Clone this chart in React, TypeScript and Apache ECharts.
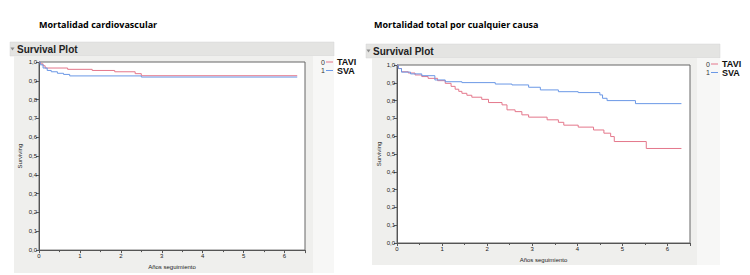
import React, { useEffect, useRef } from "react";
import * as echarts from "echarts";

// ---- Data ----
const leftTitle = "Mortalidad cardiovascular";
const rightTitle = "Mortalidad total por cualquier causa";
const panelHeader = "Survival Plot";
const yAxisName = "Surviving";
const xAxisName = "Años seguimiento";
const groupCodes = ["0", "1"];
const groupNames = ["TAVI", "SVA"];

// Left panel: cardiovascular mortality
const cvTaviTime = [0, 0.04, 0.1, 0.15, 0.7, 1.3, 1.85, 2.35, 2.5, 6.31];
const cvTaviSurv = [1.0, 0.99, 0.98, 0.968, 0.961, 0.955, 0.948, 0.938, 0.927, 0.927];
const cvSvaTime = [0, 0.03, 0.1, 0.2, 0.3, 0.45, 0.6, 0.75, 2.5, 6.31];
const cvSvaSurv = [1.0, 0.985, 0.968, 0.955, 0.948, 0.94, 0.934, 0.926, 0.92, 0.92];

// Right panel: all-cause mortality
const allTaviTime = [0, 0.03, 0.1, 0.25, 0.4, 0.55, 0.69, 0.9, 1.07, 1.2, 1.29, 1.37, 1.44, 1.55, 1.66, 1.88, 2.03, 2.33, 2.44, 2.62, 2.77, 2.92, 3.33, 3.58, 3.7, 4.02, 4.36, 4.59, 4.74, 4.82, 5.53, 6.31];
const allTaviSurv = [1.0, 0.98, 0.962, 0.955, 0.944, 0.935, 0.925, 0.912, 0.897, 0.88, 0.864, 0.852, 0.841, 0.83, 0.819, 0.807, 0.789, 0.776, 0.748, 0.738, 0.72, 0.707, 0.692, 0.678, 0.662, 0.651, 0.635, 0.617, 0.598, 0.57, 0.531, 0.531];
const allSvaTime = [0, 0.03, 0.1, 0.3, 0.55, 0.84, 1.07, 1.44, 2.18, 2.55, 2.92, 3.18, 3.58, 4.02, 4.5, 4.56, 4.66, 5.29, 6.31];
const allSvaSurv = [1.0, 0.98, 0.96, 0.95, 0.94, 0.916, 0.906, 0.901, 0.893, 0.888, 0.875, 0.86, 0.85, 0.845, 0.832, 0.813, 0.8, 0.783, 0.783];

const RED = "#e4778b";
const BLUE = "#6b98e6";

const pairs = (t: number[], s: number[]) => t.map((v, i) => [v, s[i]]);

export default function App() {
  const ref = useRef<HTMLDivElement>(null);
  useEffect(() => {
    if (!ref.current) return;
    const chart = echarts.init(ref.current, undefined, { renderer: "svg" });

    const xAxisBase = (gridIndex: number, nameGap: number) => ({
      type: "value",
      gridIndex,
      min: 0,
      max: 6.5,
      interval: 1,
      name: xAxisName,
      nameLocation: "middle",
      nameGap,
      nameTextStyle: { fontSize: 6, color: "#222", fontFamily: "Liberation Sans" },
      axisLine: { show: true, onZero: false, lineStyle: { color: "#555", width: 1 } },
      axisTick: { show: true, inside: false, length: 3, lineStyle: { color: "#555" } },
      minorTick: { show: true, splitNumber: 2, length: 2, lineStyle: { color: "#555" } },
      splitLine: { show: false },
      axisLabel: {
        fontSize: 6,
        color: "#222",
        margin: 3,
        fontFamily: "Liberation Sans",
        formatter: (v: number) => (v > 6 ? "" : String(v)),
      },
    });
    const yAxisBase = (gridIndex: number, nameGap: number) => ({
      type: "value",
      gridIndex,
      min: 0,
      max: 1,
      interval: 0.1,
      name: yAxisName,
      nameLocation: "middle",
      nameRotate: 90,
      nameGap,
      nameTextStyle: { fontSize: 6, color: "#222", fontFamily: "Liberation Sans" },
      axisLine: { show: true, lineStyle: { color: "#555", width: 1 } },
      axisTick: { show: true, inside: false, length: 3, lineStyle: { color: "#555" } },
      splitLine: { show: false },
      axisLabel: {
        fontSize: 6,
        color: "#222",
        margin: 2,
        fontFamily: "Liberation Sans",
        formatter: (v: number) => v.toFixed(1).replace(".", ","),
      },
    });

    const series = (name: string, data: number[][], color: string, idx: number) => ({
      type: "line",
      name,
      xAxisIndex: idx,
      yAxisIndex: idx,
      data,
      step: "end",
      showSymbol: false,
      symbol: "none",
      lineStyle: { color, width: 1 },
      itemStyle: { color },
      z: 5,
    });

    const legend = (x: number, y: number) => {
      const els: any[] = [];
      [RED, BLUE].forEach((c, i) => {
        const yy = y + i * 8.5;
        els.push({
          type: "text",
          x,
          y: yy,
          style: { text: groupCodes[i], font: "7px Liberation Sans", fill: "#333", textVerticalAlign: "middle" },
          z: 100,
        });
        els.push({
          type: "line",
          shape: { x1: x + 5, y1: yy, x2: x + 12, y2: yy },
          style: { stroke: c, lineWidth: 1 },
          z: 100,
        });
        els.push({
          type: "text",
          x: x + 16,
          y: yy,
          style: { text: groupNames[i], font: "bold 9px Liberation Sans", fill: "#111", textVerticalAlign: "middle" },
          z: 100,
        });
      });
      return els;
    };

    const panel = (hx: number, hy: number, hw: number, bx: number, bw: number, bh: number, lw: number) => [
      { type: "rect", shape: { x: hx, y: hy, width: hw, height: 14 }, style: { fill: "#e4e4e2", stroke: "#d6d6d4", lineWidth: 0.5 }, z: -10 },
      { type: "rect", shape: { x: bx, y: hy + 14, width: bw, height: bh }, style: { fill: "#efefed" }, z: -10 },
      { type: "rect", shape: { x: bx + bw, y: hy + 14, width: lw, height: bh }, style: { fill: "#f7f7f6" }, z: -10 },
      {
        type: "text",
        x: hx + 7,
        y: hy + 7,
        style: { text: panelHeader, font: "bold 10px Liberation Sans", fill: "#222", textVerticalAlign: "middle" },
        z: 100,
      },
      {
        type: "polygon",
        shape: { points: [[hx + 0.5, hy + 5.5], [hx + 4.5, hy + 5.5], [hx + 2.5, hy + 8.5]] },
        style: { fill: "#8a8a8a" },
        z: 100,
      },
    ];

    const option: any = {
      animation: false,
      backgroundColor: "#ffffff",
      grid: [
        { left: 39, top: 62, width: 266, height: 190, show: true, backgroundColor: "#ffffff", borderColor: "#666", borderWidth: 1 },
        { left: 397, top: 65, width: 293, height: 178, show: true, backgroundColor: "#ffffff", borderColor: "#666", borderWidth: 1 },
      ],
      xAxis: [xAxisBase(0, 11), xAxisBase(1, 12)],
      yAxis: [yAxisBase(0, 16), yAxisBase(1, 15)],
      series: [
        series("TAVI", pairs(cvTaviTime, cvTaviSurv), RED, 0),
        series("SVA", pairs(cvSvaTime, cvSvaSurv), BLUE, 0),
        series("TAVI", pairs(allTaviTime, allTaviSurv), RED, 1),
        series("SVA", pairs(allSvaTime, allSvaSurv), BLUE, 1),
      ],
      graphic: [
        {
          type: "text",
          x: 39,
          y: 24,
          style: { text: leftTitle, font: "bold 9px 'Open Sans'", fill: "#000", textVerticalAlign: "middle" },
          z: 100,
        },
        {
          type: "text",
          x: 374,
          y: 24,
          style: { text: rightTitle, font: "bold 9px 'Open Sans'", fill: "#000", textVerticalAlign: "middle" },
          z: 100,
        },
        ...panel(10, 42, 324, 14, 299, 217, 21),
        ...panel(366, 44, 354, 372, 325, 207, 23),
        ...legend(321, 62),
        ...legend(706, 64),
      ],
    };
    chart.setOption(option);
    return () => chart.dispose();
  }, []);
  return <div ref={ref} style={{ position: "fixed", left: 0, top: 0, width: 750, height: 275 }} />;
}
